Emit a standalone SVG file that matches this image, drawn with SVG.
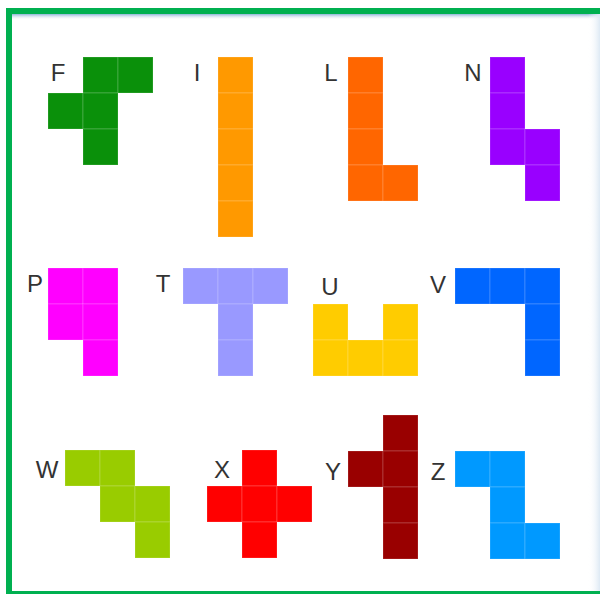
<svg xmlns="http://www.w3.org/2000/svg" xmlns:xlink="http://www.w3.org/1999/xlink" width="600" height="594" viewBox="0 0 600 594">
<style>
.lbl{font-family:"Liberation Sans",Arial,sans-serif;font-size:24px;fill:#333;text-anchor:middle}
.cell{stroke:#ffffff;stroke-opacity:0.18;stroke-width:1}
</style>
<defs>
<linearGradient id="topShade" x1="0" y1="0" x2="0" y2="1">
<stop offset="0" stop-color="#8fb4d8"/>
<stop offset="1" stop-color="#ffffff" stop-opacity="0"/>
</linearGradient>
<linearGradient id="rightShade" x1="1" y1="0" x2="0" y2="0">
<stop offset="0" stop-color="#dde9f4"/>
<stop offset="1" stop-color="#ffffff" stop-opacity="0"/>
</linearGradient>
<rect id="c" class="cell" width="35" height="36"/>
</defs>
<rect width="600" height="594" fill="#ffffff"/>
<rect x="12" y="14" width="588" height="6" fill="url(#topShade)"/>
<rect x="588" y="14" width="12" height="577" fill="url(#rightShade)"/>
<g id="frame" fill="none" stroke="#00b050" stroke-width="6">
<path d="M600 11 H9 V594"/>
<path d="M9 592.5 H600" stroke-width="3"/>
</g>

<g id="F" fill="#0a900a">
<use xlink:href="#c" x="83" y="57"/><use xlink:href="#c" x="118" y="57"/>
<use xlink:href="#c" x="48" y="93"/><use xlink:href="#c" x="83" y="93"/>
<use xlink:href="#c" x="83" y="129"/>
<text class="lbl" x="58" y="81">F</text>
</g>
<g id="I" fill="#ff9900">
<use xlink:href="#c" x="218" y="57"/><use xlink:href="#c" x="218" y="93"/><use xlink:href="#c" x="218" y="129"/><use xlink:href="#c" x="218" y="165"/><use xlink:href="#c" x="218" y="201"/>
<text class="lbl" x="197" y="81">I</text>
</g>
<g id="L" fill="#ff6600">
<use xlink:href="#c" x="348" y="57"/><use xlink:href="#c" x="348" y="93"/><use xlink:href="#c" x="348" y="129"/><use xlink:href="#c" x="348" y="165"/><use xlink:href="#c" x="383" y="165"/>
<text class="lbl" x="331" y="81">L</text>
</g>
<g id="N" fill="#9900ff">
<use xlink:href="#c" x="490" y="57"/><use xlink:href="#c" x="490" y="93"/><use xlink:href="#c" x="490" y="129"/><use xlink:href="#c" x="525" y="129"/><use xlink:href="#c" x="525" y="165"/>
<text class="lbl" x="473" y="81">N</text>
</g>

<g id="P" fill="#ff00ff">
<use xlink:href="#c" x="48" y="268"/><use xlink:href="#c" x="83" y="268"/><use xlink:href="#c" x="48" y="304"/><use xlink:href="#c" x="83" y="304"/><use xlink:href="#c" x="83" y="340"/>
<text class="lbl" x="35" y="292">P</text>
</g>
<g id="T" fill="#9999ff">
<use xlink:href="#c" x="183" y="268"/><use xlink:href="#c" x="218" y="268"/><use xlink:href="#c" x="253" y="268"/><use xlink:href="#c" x="218" y="304"/><use xlink:href="#c" x="218" y="340"/>
<text class="lbl" x="163" y="292">T</text>
</g>
<g id="U" fill="#ffcc00">
<use xlink:href="#c" x="313" y="304"/><use xlink:href="#c" x="383" y="304"/><use xlink:href="#c" x="313" y="340"/><use xlink:href="#c" x="348" y="340"/><use xlink:href="#c" x="383" y="340"/>
<text class="lbl" x="330" y="295">U</text>
</g>
<g id="V" fill="#0066ff">
<use xlink:href="#c" x="455" y="268"/><use xlink:href="#c" x="490" y="268"/><use xlink:href="#c" x="525" y="268"/><use xlink:href="#c" x="525" y="304"/><use xlink:href="#c" x="525" y="340"/>
<text class="lbl" x="438" y="293">V</text>
</g>

<g id="W" fill="#99cc00">
<use xlink:href="#c" x="65" y="450"/><use xlink:href="#c" x="100" y="450"/><use xlink:href="#c" x="100" y="486"/><use xlink:href="#c" x="135" y="486"/><use xlink:href="#c" x="135" y="522"/>
<text class="lbl" x="47" y="478">W</text>
</g>
<g id="X" fill="#ff0000">
<use xlink:href="#c" x="242" y="450"/><use xlink:href="#c" x="207" y="486"/><use xlink:href="#c" x="242" y="486"/><use xlink:href="#c" x="277" y="486"/><use xlink:href="#c" x="242" y="522"/>
<text class="lbl" x="222" y="478">X</text>
</g>
<g id="Y" fill="#990000">
<use xlink:href="#c" x="383" y="415"/><use xlink:href="#c" x="348" y="451"/><use xlink:href="#c" x="383" y="451"/><use xlink:href="#c" x="383" y="487"/><use xlink:href="#c" x="383" y="523"/>
<text class="lbl" x="333" y="480">Y</text>
</g>
<g id="Z" fill="#0099ff">
<use xlink:href="#c" x="455" y="451"/><use xlink:href="#c" x="490" y="451"/><use xlink:href="#c" x="490" y="487"/><use xlink:href="#c" x="490" y="523"/><use xlink:href="#c" x="525" y="523"/>
<text class="lbl" x="438" y="480">Z</text>
</g>
</svg>
